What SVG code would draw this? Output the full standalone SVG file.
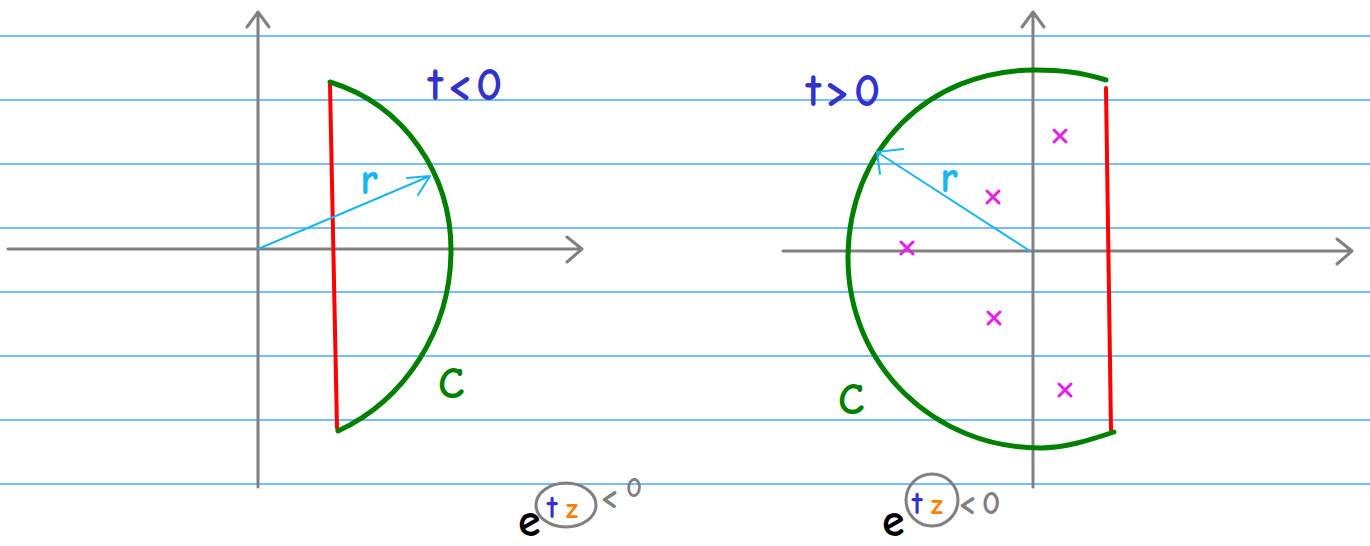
<svg xmlns="http://www.w3.org/2000/svg" width="1370" height="546" viewBox="0 0 1370 546">
<style>
.rule{stroke:#45aaf2;stroke-width:1.3}
.axis{stroke:#808080;stroke-width:3;fill:none;stroke-linecap:round;stroke-linejoin:round}
.red{stroke:#ff0000;stroke-width:4;fill:none;stroke-linecap:round}
.arc{stroke:#008000;stroke-width:5;fill:none;stroke-linecap:round}
.rad{stroke:#1ab6f0;stroke-width:2;fill:none;stroke-linecap:round;stroke-linejoin:round}
.pole{stroke:#e81ee8;stroke-width:3;stroke-linecap:round}
.hand{font-family:"Comic Neue","Liberation Sans",sans-serif;font-weight:bold}
.blue{fill:#3333cc;font-size:46px;letter-spacing:4px}
.cyan{fill:#1ab6f0;font-size:44px}
.green{fill:#008000;font-size:44px}
.gray{fill:#808080}
</style>
<rect width="1370" height="546" fill="#fff"/>
<g id="rules">
<line class="rule" x1="0" y1="36" x2="1370" y2="36"/>
<line class="rule" x1="0" y1="100" x2="1370" y2="100"/>
<line class="rule" x1="0" y1="164" x2="1370" y2="164"/>
<line class="rule" x1="0" y1="228" x2="1370" y2="228"/>
<line class="rule" x1="0" y1="292" x2="1370" y2="292"/>
<line class="rule" x1="0" y1="356" x2="1370" y2="356"/>
<line class="rule" x1="0" y1="420" x2="1370" y2="420"/>
<line class="rule" x1="0" y1="484" x2="1370" y2="484"/>
</g>
<g id="left-plot">
<path class="axis" d="M258,487 L258,12 M247,27 L258,12 L269,27"/>
<path class="axis" d="M8,249 L582,249 M567,237 L582,249 L567,262"/>
<path class="red" d="M330,85 L337,428"/>
<path class="arc" d="M330,82 C405,105 451,175 451,250 C451,330 405,400 338,431"/>
<path class="rad" d="M258,249 L430,176 M407,178 L430,176 L418,195"/>
<text class="hand cyan" x="360" y="194">r</text>
<text class="hand blue" x="428" y="100">t&lt;0</text>
<text class="hand green" x="438" y="398">C</text>
</g>
<g id="right-plot">
<path class="axis" d="M1033,487 L1033,12 M1022,27 L1033,12 L1044,27"/>
<path class="axis" d="M783,251 L1352,251 M1337,239 L1352,251 L1337,264"/>
<path class="red" d="M1106,88 L1111,430"/>
<path class="arc" d="M1106,80 C1080,72 1060,70 1035,70 C928,70 848,150 848,258 C848,366 935,448 1040,448 C1065,448 1090,440 1114,432"/>
<path class="rad" d="M1030,251 L877,152 M903,149 L877,152 L880,174"/>
<text class="hand cyan" x="940" y="192">r</text>
<text class="hand blue" x="806" y="106">t&gt;0</text>
<text class="hand green" x="838" y="414">C</text>
<g class="pole">
<path d="M1054,130 L1066,142 M1066,130 L1054,142"/>
<path d="M987,191 L999,203 M999,191 L987,203"/>
<path d="M901,242 L913,254 M913,242 L901,254"/>
<path d="M988,312 L1000,324 M1000,312 L988,324"/>
<path d="M1059,384 L1071,396 M1071,384 L1059,396"/>
</g>
</g>
<g id="left-formula">
<text class="hand" x="518" y="536" font-size="46" fill="#000">e</text>
<ellipse cx="566" cy="505" rx="30" ry="22" fill="none" stroke="#808080" stroke-width="3"/>
<text class="hand" x="547" y="518" font-size="32" fill="#3333cc">t</text>
<text class="hand" x="566" y="518" font-size="28" fill="#ff8000">z</text>
<text class="hand gray" x="600" y="508" font-size="34">&lt;</text>
<text class="hand gray" x="626" y="497" font-size="28">0</text>
</g>
<g id="right-formula">
<text class="hand" x="882" y="536" font-size="46" fill="#000">e</text>
<circle cx="932" cy="500" r="26" fill="none" stroke="#808080" stroke-width="3"/>
<text class="hand" x="912" y="514" font-size="32" fill="#3333cc">t</text>
<text class="hand" x="931" y="514" font-size="28" fill="#ff8000">z</text>
<text class="hand gray" x="958" y="514" font-size="34">&lt;</text>
<text class="hand gray" x="982" y="514" font-size="32">0</text>
</g>
</svg>
